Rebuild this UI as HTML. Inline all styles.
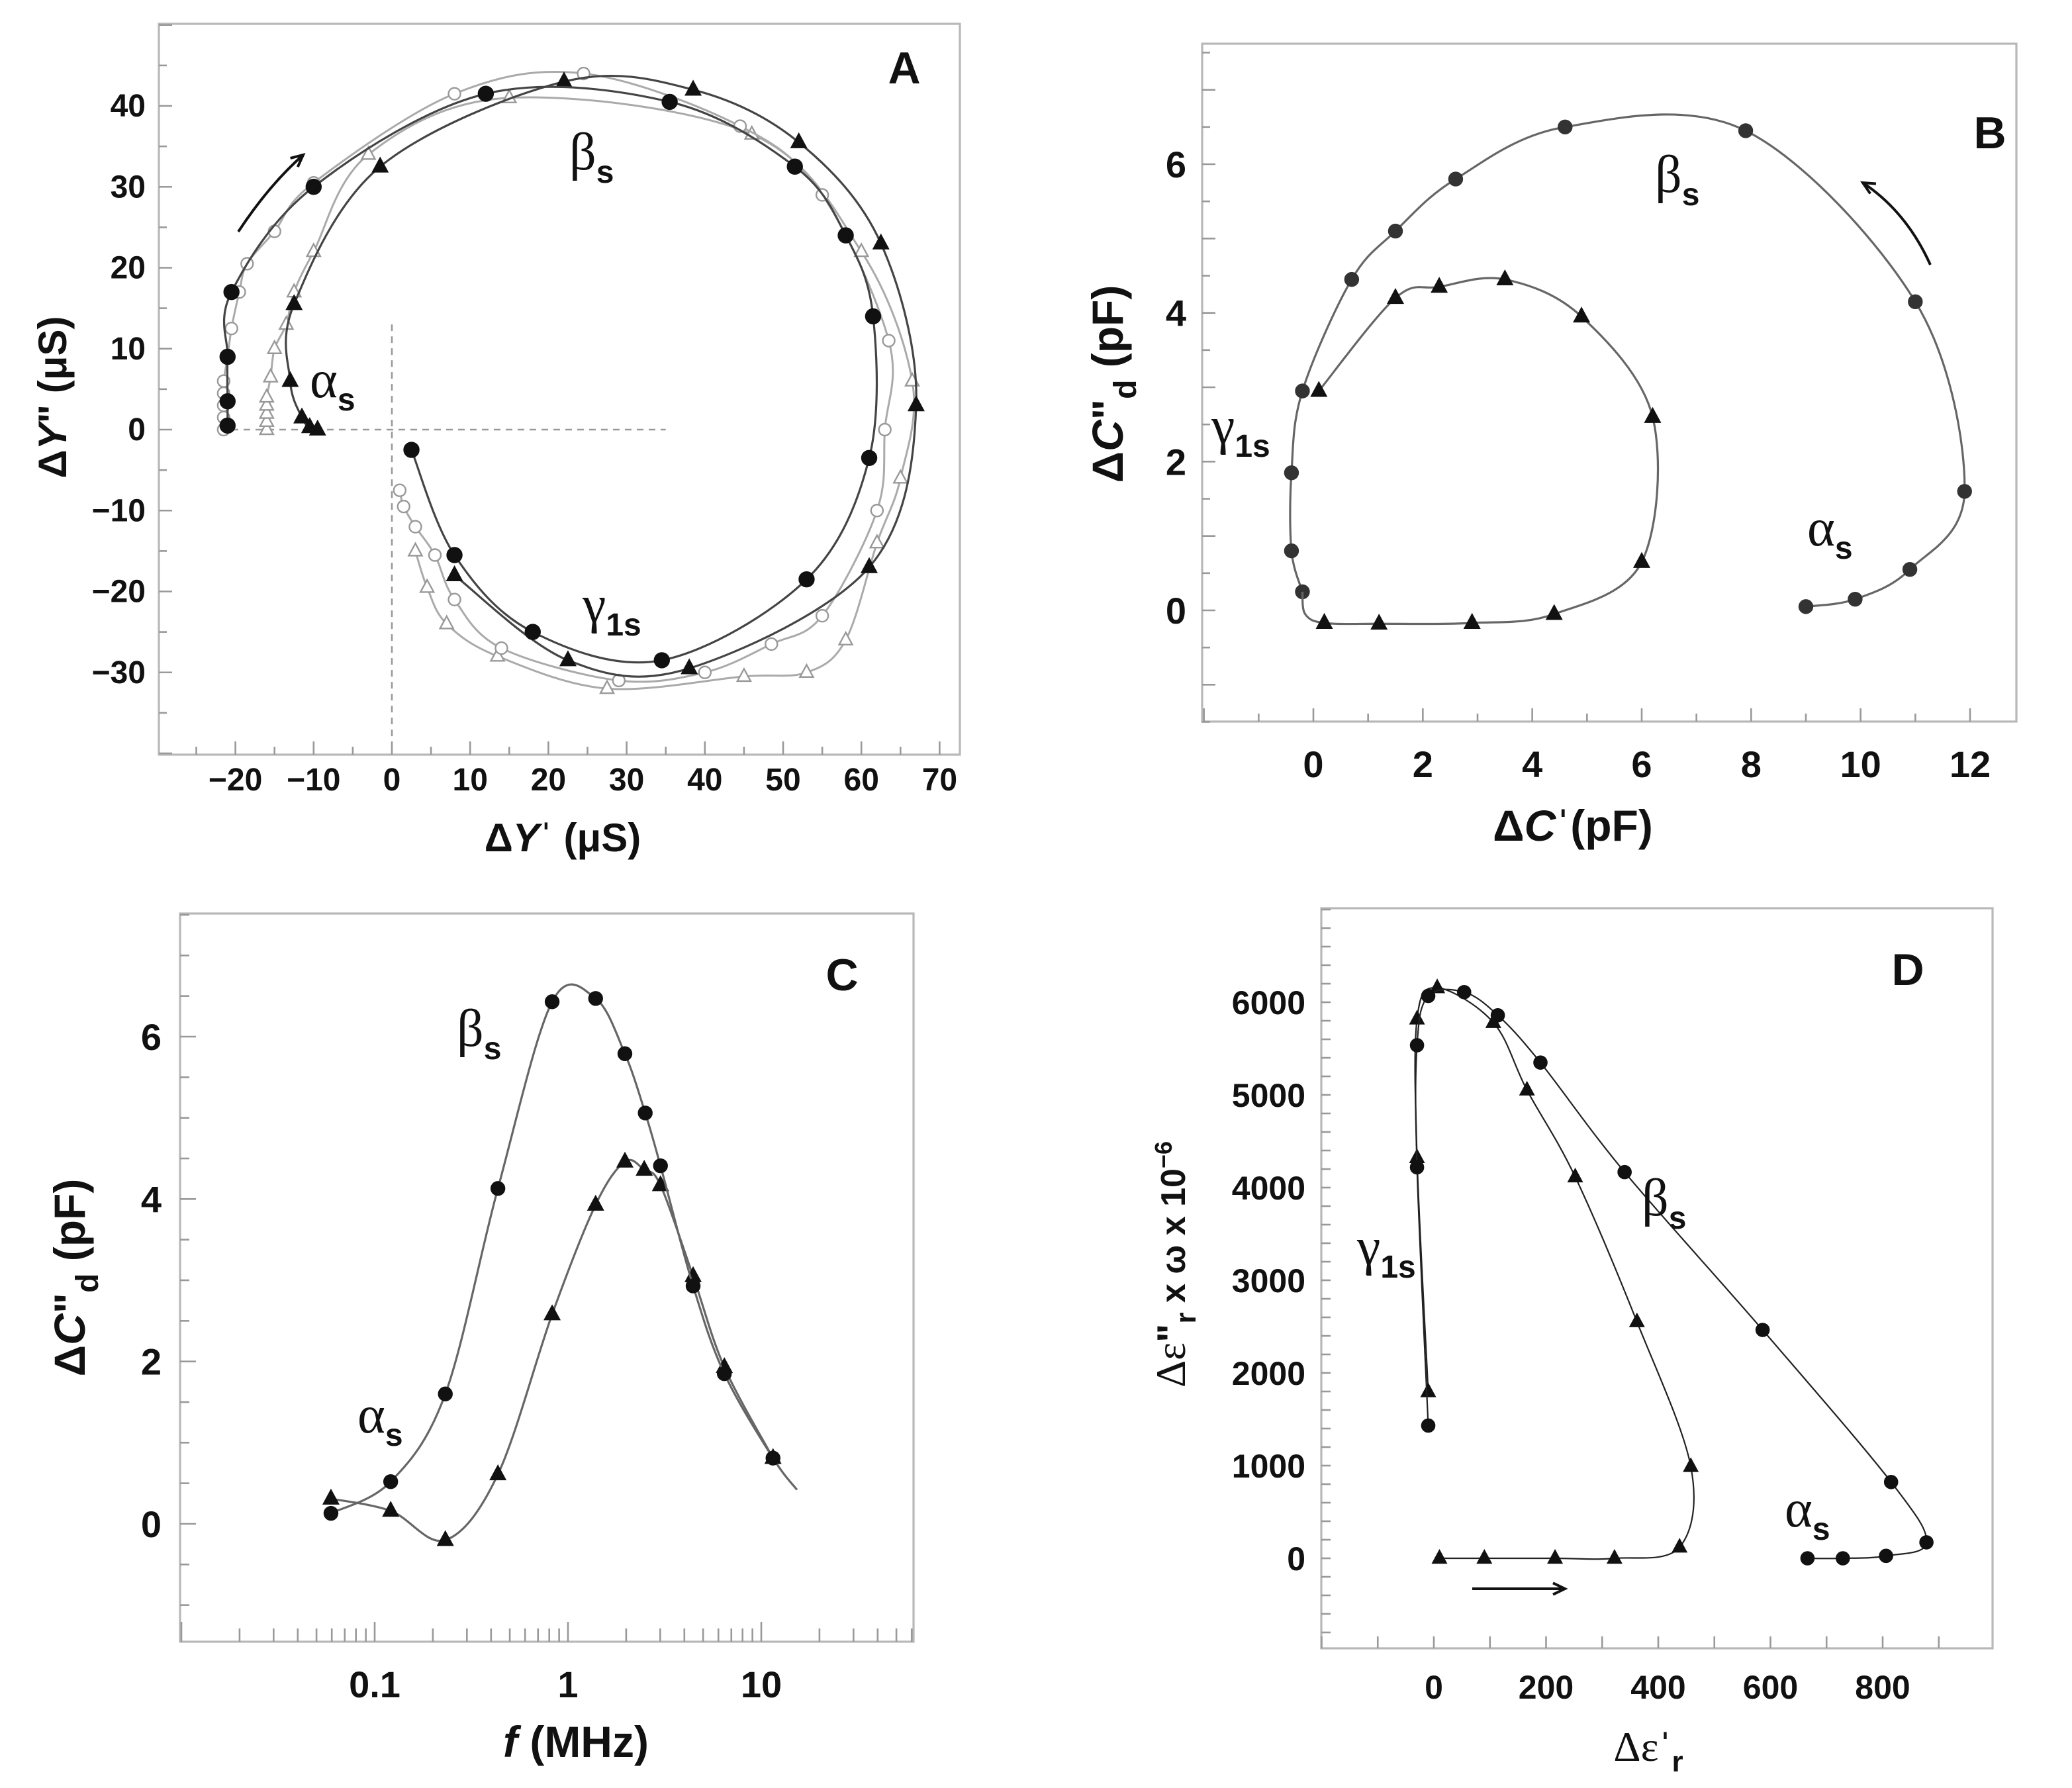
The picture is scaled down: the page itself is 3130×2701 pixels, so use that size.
<!DOCTYPE html>
<html><head><meta charset="utf-8"><style>
html,body{margin:0;padding:0;background:#fff}
svg{display:block}
text{font-family:"Liberation Sans",sans-serif}
.tk{font-size:24px;font-weight:bold;fill:#111}
.tkb{font-size:28px;font-weight:bold;fill:#111}
.tkd{font-size:25px;font-weight:bold;fill:#111}
.gr{font-family:"Liberation Serif",serif;font-size:40px;fill:#111}
.sb{font-family:"Liberation Sans",sans-serif;font-size:24px;font-weight:bold}
.pl{font-size:34px;font-weight:bold;fill:#111}
.al{font-size:30px;font-weight:bold;fill:#111}
.alb{font-size:33px;font-weight:bold;fill:#111}
</style></head><body>
<svg id="fig" xmlns="http://www.w3.org/2000/svg" width="3130" height="2701" viewBox="0 0 1565 1350.5">
<rect x="0" y="0" width="1565" height="1350.5" fill="#fff"/>
<g id="g"></g>
</svg>
<script>
// ---------- Panel A data ----------
const aFilledCircleX=[-21,-21,-21,-20.5,-10,12,35.5,51.5,58,61.5,61,53,34.5,18,8,2.5];
const aFilledCircleY=[0.5,3.5,9,17,30,41.5,40.5,32.5,24,14,-3.5,-18.5,-28.5,-25,-15.5,-2.5];
const aFilledTriX=[-9.5,-10.5,-11.5,-13,-12.5,-1.5,22,38.5,52,62.5,67,61,38,22.5,8];
const aFilledTriY=[0,0.3,1.5,6,15.5,32.5,43,42,35.5,23,3,-17,-29.5,-28.5,-18];
const aOpenCircleX=[-21.5,-21.5,-21.5,-21.5,-21.5,-21,-20.5,-19.5,-18.5,-15,-10,8,24.5,44.5,55,63.5,63,62,55,48.5,40,29,14,8,5.5,3,1.5,1];
const aOpenCircleY=[0,1.5,3,4.5,6,9,12.5,17,20.5,24.5,30.5,41.5,44,37.5,29,11,0,-10,-23,-26.5,-30,-31,-27,-21,-15.5,-12,-9.5,-7.5];
const aOpenTriX=[-16,-16,-16,-16,-16,-15.5,-15,-13.5,-12.5,-10,-3,15,46,60,66.5,65,62,58,53,45,27.5,13.5,7,4.5,3];
const aOpenTriY=[0,1,2,3,4,6.5,10,13,17,22,34,41,36.5,22,6,-6,-14,-26,-30,-30.5,-32,-28,-24,-19.5,-15];
const aXTicks=[-20,-10,0,10,20,30,40,50,60,70];
const aYTicks=[40,30,20,10,0,-10,-20,-30];
// ---------- Panel B data ----------
const bCircleX=[-0.2,-0.4,-0.4,-0.2,0.7,1.5,2.6,4.6,7.9,11,11.9,10.9,9.9,9];
const bCircleY=[0.25,0.8,1.85,2.95,4.45,5.1,5.8,6.5,6.45,4.15,1.6,0.55,0.15,0.05];
const bTriX=[0.1,1.5,2.3,3.5,4.9,6.2,6,4.4,2.9,1.2,0.2];
const bTriY=[2.95,4.2,4.35,4.45,3.95,2.6,0.65,-0.05,-0.17,-0.18,-0.17];
const bXTicks=[0,2,4,6,8,10,12];
const bYTicks=[0,2,4,6];
// ---------- Panel C data ----------
const cFreq=[0.0594,0.121,0.232,0.434,0.828,1.39,1.97,2.51,3.01,4.44,6.44,11.5];
const cCircle=[0.13,0.52,1.6,4.13,6.43,6.47,5.79,5.06,4.41,2.93,1.85,0.81];
const cTriFreq=[0.0594,0.121,0.232,0.434,0.828,1.39,1.97,2.48,3.01,4.44,6.44,11.5];
const cTri=[0.31,0.16,-0.2,0.61,2.58,3.93,4.46,4.36,4.17,3.05,1.93,0.81];
const cXTicks=[0.1,1,10];
const cXTickLabels=["0.1","1","10"];
const cYTicks=[0,2,4,6];
// ---------- Panel D data ----------
const dCircleX=[666,729,806,878,815,586,340,190,114,54,-10,-30,-30,-10];
const dCircleY=[0,0,26,172,823,2464,4167,5349,5859,6109,6068,5536,4219,1432];
const dTriX=[10,90,216,322,438,458,362,252,166,106,6,-30,-30,-10];
const dTriY=[0,0,0,0,120,990,2552,4115,5052,5781,6156,5818,4323,1797];
const dXTicks=[0,200,400,600,800];
const dYTicks=[0,1000,2000,3000,4000,5000,6000];

const NS="http://www.w3.org/2000/svg";
const G=document.getElementById('g');
function mk(tag,parent){const e=document.createElementNS(NS,tag);(parent||G).appendChild(e);return e;}
function lin(d0,d1,p0,p1){return v=>p0+(v-d0)*(p1-p0)/(d1-d0);}
function smooth(pts){
  if(pts.length<2)return '';
  let d='M'+pts[0][0].toFixed(2)+','+pts[0][1].toFixed(2);
  for(let i=0;i<pts.length-1;i++){
    const p0=pts[i-1]||pts[i],p1=pts[i],p2=pts[i+1],p3=pts[i+2]||p2;
    const c1=[p1[0]+(p2[0]-p0[0])/6,p1[1]+(p2[1]-p0[1])/6];
    const c2=[p2[0]-(p3[0]-p1[0])/6,p2[1]-(p3[1]-p1[1])/6];
    d+='C'+c1[0].toFixed(2)+','+c1[1].toFixed(2)+' '+c2[0].toFixed(2)+','+c2[1].toFixed(2)+' '+p2[0].toFixed(2)+','+p2[1].toFixed(2);
  }
  return d;
}
function frame(x,y,w,h,name){
  const r=mk('rect');r.setAttribute('x',x);r.setAttribute('y',y);r.setAttribute('width',w);r.setAttribute('height',h);
  r.setAttribute('fill','none');r.setAttribute('stroke','#b8b8b8');r.setAttribute('stroke-width','1.6');
  
  
}
function tick(x1,y1,x2,y2){const l=mk('line');l.setAttribute('x1',x1);l.setAttribute('y1',y1);l.setAttribute('x2',x2);l.setAttribute('y2',y2);l.setAttribute('stroke','#999');l.setAttribute('stroke-width','1.3');
  
  }
function txt(s,x,y,cls,anchor,name){const t=mk('text');t.setAttribute('x',x);t.setAttribute('y',y);t.setAttribute('class',cls);t.setAttribute('text-anchor',anchor||'middle');t.textContent=s;
  
  return t;}
function curve(pts,color,w,name){const p=mk('path');p.setAttribute('d',smooth(pts));p.setAttribute('fill','none');p.setAttribute('stroke',color);p.setAttribute('stroke-width',w);
  
  }
function marker(x,y,kind,r,fill,stroke,name){
  let e;
  if(kind==='c'){e=mk('circle');e.setAttribute('cx',x);e.setAttribute('cy',y);e.setAttribute('r',r);}
  else{e=mk('polygon');e.setAttribute('points',x+','+(y-r*1.15)+' '+(x+r)+','+(y+r*0.7)+' '+(x-r)+','+(y+r*0.7));}
  e.setAttribute('fill',fill);e.setAttribute('stroke',stroke);e.setAttribute('stroke-width','1.2');
  
  
}
function greek(g,sub,x,y,name){
  const t=mk('text');t.setAttribute('x',x);t.setAttribute('y',y);t.setAttribute('class','gr');
  
  
  t.appendChild(document.createTextNode(g));
  const s=document.createElementNS(NS,'tspan');s.setAttribute('class','sb');s.setAttribute('dy','10');s.textContent=sub;t.appendChild(s);
}
function series(xs,ys,sx,sy,kind,r,fill,stroke,lc,lw,name,extra){
  let pts=xs.map((v,i)=>[sx(v),sy(ys[i])]);
  if(extra)pts=pts.concat(extra);
  curve(pts,lc,lw,name+'-line');
  xs.forEach((v,i)=>marker(sx(v),sy(ys[i]),kind,r,fill,stroke,name+'-point'));
}
function rotLabel(x,y,parts,name,cls){
  const t=mk('text');t.setAttribute('transform','translate('+x+','+y+') rotate(-90)');t.setAttribute('class',cls||'al');t.setAttribute('text-anchor','middle');
  
  
  parts.forEach(p=>{const s=document.createElementNS(NS,'tspan');s.textContent=p[0];if(p[1])s.setAttribute('style',p[1]);if(p[2])s.setAttribute('dy',p[2]);t.appendChild(s);});
}
function hLabel(x,y,parts,name,cls){
  const t=mk('text');t.setAttribute('x',x);t.setAttribute('y',y);t.setAttribute('class',cls||'al');t.setAttribute('text-anchor','middle');
  
  
  parts.forEach(p=>{const s=document.createElementNS(NS,'tspan');s.textContent=p[0];if(p[1])s.setAttribute('style',p[1]);if(p[2])s.setAttribute('dy',p[2]);t.appendChild(s);});
}
function arrow(d,hx,hy,ang,name){
  const p=mk('path');p.setAttribute('d',d);p.setAttribute('fill','none');p.setAttribute('stroke','#111');p.setAttribute('stroke-width','2');
  
  
  const h=mk('path');const a=ang*Math.PI/180,L=10;
  h.setAttribute('d','M'+(hx-L*Math.cos(a-0.45))+','+(hy-L*Math.sin(a-0.45))+' L'+hx+','+hy+' L'+(hx-L*Math.cos(a+0.45))+','+(hy-L*Math.sin(a+0.45)));
  h.setAttribute('fill','none');h.setAttribute('stroke','#111');h.setAttribute('stroke-width','2');
  
  
}

// ===== Panel A =====
(function(){
  const L=120,R=725,T=18,B=570;
  const sx=lin(0,70,296,709.7), sy=lin(0,40,324.5,80);
  frame(L,T,R-L,B-T,'panel-a-frame');
  for(let v=-25;v<=70;v+=5){tick(sx(v),B,sx(v),B-(v%10===0?10:6));}
  for(let v=-40;v<=50;v+=5){const y=sy(v);if(y>T&&y<B)tick(L,y,L+(v%10===0?10:6),y);}
  aXTicks.forEach(v=>txt(v<0?'\u2212'+(-v):String(v),sx(v),B+27,'tk','middle','a-x-tick-label'));
  aYTicks.forEach(v=>txt(v<0?'\u2212'+(-v):String(v),L-10,sy(v)+8,'tk','end','a-y-tick-label'));
  let d=mk('path');d.setAttribute('d','M'+sx(-22)+','+sy(0)+' H'+sx(35)+' M'+sx(0)+','+sy(13)+' V'+sy(-38));
  d.setAttribute('stroke','#999');d.setAttribute('stroke-dasharray','5,4');d.setAttribute('stroke-width','1.3');d.setAttribute('fill','none');
  
  
  series(aOpenTriX,aOpenTriY,sx,sy,'t',5,'#fff','#999','#aaa',1.5,'a-open-triangle-series');
  series(aOpenCircleX,aOpenCircleY,sx,sy,'c',4.5,'#fff','#999','#aaa',1.5,'a-open-circle-series');
  series(aFilledTriX,aFilledTriY,sx,sy,'t',5.5,'#111','#111','#444',1.6,'a-filled-triangle-series');
  series(aFilledCircleX,aFilledCircleY,sx,sy,'c',5.5,'#111','#111','#444',1.6,'a-filled-circle-series');
  greek('\u03b2','s',430,128,'a-beta-label');
  greek('\u03b1','s',234,300,'a-alpha-label');
  greek('\u03b3','1s',440,470,'a-gamma-label');
  arrow('M180,175 Q203,140 229,117',229,117,-40,'a-direction-arrow');
  txt('A',683,63,'pl','middle','panel-a-letter');
  hLabel(425,643,[['\u0394'],['Y','font-style:italic'],['\u02c8 (\u03bcS)']],'a-x-axis-title');
  rotLabel(50,300,[['\u0394'],['Y','font-style:italic'],['\u02ba (\u03bcS)']],'a-y-axis-title');
})();

// ===== Panel B =====
(function(){
  const L=908,R=1523,T=33,B=545;
  const sx=lin(0,12,992,1488), sy=lin(0,6,461,124);
  frame(L,T,R-L,B-T,'panel-b-frame');
  for(let v=-2;v<=12.5;v+=1){tick(sx(v),B,sx(v),B-(v%2===0?10:6));}
  for(let v=-1.5;v<=7.5;v+=0.5){tick(L,sy(v),L+(v%1===0?10:6),sy(v));}
  bXTicks.forEach(v=>txt(String(v),sx(v),B+42,'tkb','middle','b-x-tick-label'));
  bYTicks.forEach(v=>txt(String(v),L-12,sy(v)+10,'tkb','end','b-y-tick-label'));
  series(bCircleX,bCircleY,sx,sy,'c',5,'#333','#333','#666',1.6,'b-circle-series');
  series(bTriX,bTriY,sx,sy,'t',5.5,'#111','#111','#666',1.6,'b-triangle-series',[[sx(-0.15),sy(-0.05)],[sx(-0.2),sy(0.25)]]);
  greek('\u03b2','s',1250,145,'b-beta-label');
  greek('\u03b3','1s',915,335,'b-gamma-label');
  greek('\u03b1','s',1365,412,'b-alpha-label');
  arrow('M1458,200 Q1440,160 1407,138',1407,138,-150,'b-direction-arrow');
  txt('B',1503,112,'pl','middle','panel-b-letter');
  hLabel(1188,635,[['\u0394'],['C','font-style:italic'],['\u02c8(pF)']],'b-x-axis-title','alb');
  rotLabel(848,290,[['\u0394'],['C','font-style:italic'],['\u02ba','',''],['d','font-size:24px','10'],[' (pF)','','-10']],'b-y-axis-title','alb');
})();

// ===== Panel C =====
(function(){
  const L=136,R=690,T=690,B=1240;
  const sx=v=>429+146*Math.log10(v), sy=lin(0,6,1151,783);
  frame(L,T,R-L,B-T,'panel-c-frame');
  for(let dec=0.01;dec<=10;dec*=10){for(let m=1;m<=9;m++){const v=dec*m;const x=sx(v);if(x>L&&x<R)tick(x,B,x,B-(m===1?15:10));}}
  for(let v=-1;v<=7.5;v+=0.5){tick(L,sy(v),L+(v%2===0?12:7),sy(v));}
  cXTicks.forEach((v,i)=>txt(cXTickLabels[i],sx(v),B+42,'tkb','middle','c-x-tick-label'));
  cYTicks.forEach(v=>txt(String(v),L-14,sy(v)+10,'tkb','end','c-y-tick-label'));
  series(cTriFreq,cTri,sx,sy,'t',5.5,'#111','#111','#666',1.6,'c-triangle-series');
  series(cFreq,cCircle,sx,sy,'c',5,'#111','#111','#666',1.6,'c-circle-series',[[sx(15.3),sy(0.42)]]);
  greek('\u03b2','s',345,790,'c-beta-label');
  greek('\u03b1','s',270,1082,'c-alpha-label');
  txt('C',636,748,'pl','middle','panel-c-letter');
  hLabel(435,1327,[['f','font-style:italic'],['  (MHz)']],'c-x-axis-title','alb');
  rotLabel(64,965,[['\u0394'],['C','font-style:italic'],['\u02ba','',''],['d','font-size:24px','10'],['  (pF)','','-10']],'c-y-axis-title','alb');
})();

// ===== Panel D =====
(function(){
  const L=998,R=1505,T=686,B=1245;
  const sx=lin(0,800,1083,1422), sy=lin(0,6000,1177,757);
  frame(L,T,R-L,B-T,'panel-d-frame');
  for(let v=-200;v<=1000;v+=100){const x=sx(v);if(x>L&&x<R)tick(x,B,x,B-9);}
  for(let v=-800;v<=7000;v+=200){const y=sy(v);if(y>T&&y<B)tick(L,y,L+7,y);}
  dXTicks.forEach(v=>txt(String(v),sx(v),B+38,'tkd','middle','d-x-tick-label'));
  dYTicks.forEach(v=>txt(String(v),L-12,sy(v)+9,'tkd','end','d-y-tick-label'));
  series(dTriX,dTriY,sx,sy,'t',5,'#111','#111','#222',1.1,'d-triangle-series');
  series(dCircleX,dCircleY,sx,sy,'c',4.8,'#111','#111','#222',1.1,'d-circle-series');
  greek('\u03b2','s',1240,918,'d-beta-label');
  greek('\u03b3','1s',1025,955,'d-gamma-label');
  greek('\u03b1','s',1348,1153,'d-alpha-label');
  arrow('M1112,1200 H1182',1182,1200,0,'d-direction-arrow');
  txt('D',1441,744,'pl','middle','panel-d-letter');
  hLabel(1245,1330,[['\u0394\u03b5','font-family:Liberation Serif,serif;font-weight:normal;font-size:32px'],['\u02c8','',''],['r','font-size:22px','8']],'d-x-axis-title');
  rotLabel(895,955,[['\u0394\u03b5','font-family:Liberation Serif,serif;font-weight:normal;font-size:32px'],['\u02ba'],['r','font-size:22px','8'],[' x \u03c9 x 10','font-size:26px','-8'],['\u22126','font-size:18px','-10']],'d-y-axis-title');
})();
</script>
</body></html>
